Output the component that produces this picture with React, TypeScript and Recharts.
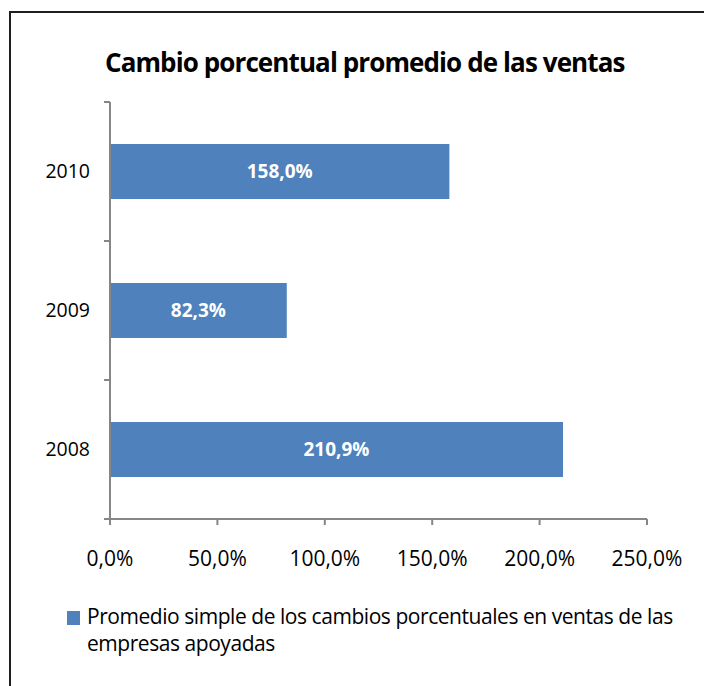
import React from "react";
import {
  BarChart,
  Bar,
  XAxis,
  YAxis,
  Legend,
  LabelList,
} from "recharts";

const years = ["2008", "2009", "2010"];
const avgChange = [210.9, 82.3, 158.0];
const xTicks = [0, 50, 100, 150, 200, 250];
const seriesName =
  "Promedio simple de los cambios porcentuales en ventas de las empresas apoyadas";
const legendLines = [
  "Promedio simple de los cambios porcentuales en ventas de las",
  "empresas apoyadas",
];
const title = "Cambio porcentual promedio de las ventas";

const data = years.map((year, i) => ({ year, value: avgChange[i] }));

const W = 704;
const H = 686;
const MARGIN = { top: 102, right: 57, bottom: 107, left: 30 };
const X_AXIS_H = 60;
const Y_AXIS_W = 80;
const TICK = 6;
const Y_GAP = 14;
const PLOT_H = H - MARGIN.top - MARGIN.bottom - X_AXIS_H;
const BAND = PLOT_H / years.length;

const FONT = "'Open Sans', sans-serif";
const AXIS_GREY = "#868686";
const BLUE = "#4F81BD";

const pct = (v: number) => v.toFixed(1).replace(".", ",") + "%";

// category labels, with the tick marks placed on the band edges
const YearTick = (props: any) => {
  const { x, y, payload } = props;
  const axisX = x + TICK + Y_GAP;
  const half = BAND / 2;
  return (
    <g>
      <line x1={axisX - TICK} x2={axisX} y1={y - half} y2={y - half} stroke={AXIS_GREY} strokeWidth={2} />
      <line x1={axisX - TICK} x2={axisX} y1={y + half} y2={y + half} stroke={AXIS_GREY} strokeWidth={2} />
      <text x={x} y={y} dy="0.35em" textAnchor="end" fontSize={19.5} fill="#000" fontFamily={FONT}>
        {payload.value}
      </text>
    </g>
  );
};

const LegendBox = (props: any) => {
  const item = props.payload && props.payload[0];
  return (
    <div style={{ display: "flex", alignItems: "flex-start", fontFamily: FONT, fontSize: 21, color: "#000", letterSpacing: -0.45 }}>
      <div style={{ width: 13, height: 14, background: item ? item.color : BLUE, marginTop: 8, marginRight: 7, flex: "none" }} />
      <div style={{ lineHeight: "27px", whiteSpace: "nowrap" }}>
        {legendLines.map((l) => (
          <div key={l}>{l}</div>
        ))}
      </div>
    </div>
  );
};

export default function App() {
  return (
    <div style={{ position: "absolute", left: 0, top: 0, width: W, height: H, overflow: "hidden", background: "#fff" }}>
      <div
        style={{
          position: "absolute",
          left: 9,
          top: 11,
          width: 720,
          height: 700,
          borderTop: "2px solid #1f1f1f",
          borderLeft: "2px solid #1f1f1f",
        }}
      />
      <div
        style={{
          position: "absolute",
          left: 105,
          top: 49,
          fontFamily: FONT,
          fontWeight: 700,
          fontSize: 26,
          lineHeight: "26px",
          letterSpacing: -0.9,
          whiteSpace: "nowrap",
          color: "#000",
        }}
      >
        {title}
      </div>
      <div style={{ position: "absolute", left: 0, top: 0 }}>
        <BarChart width={W} height={H} data={data} layout="vertical" margin={MARGIN}>
          <XAxis
            type="number"
            domain={[0, 250]}
            ticks={xTicks}
            tickFormatter={pct}
            height={X_AXIS_H}
            stroke={AXIS_GREY}
            axisLine={{ stroke: AXIS_GREY, strokeWidth: 2 }}
            tickLine={{ stroke: AXIS_GREY, strokeWidth: 2 }}
            tickSize={TICK}
            tickMargin={26}
            tick={{ fill: "#000", fontSize: 21, fontFamily: FONT }}
          />
          <YAxis
            type="category"
            dataKey="year"
            reversed
            width={Y_AXIS_W}
            axisLine={{ stroke: AXIS_GREY, strokeWidth: 2 }}
            tickLine={false}
            tickSize={TICK}
            tickMargin={Y_GAP}
            tick={<YearTick />}
          />
          <Legend
            layout="horizontal"
            verticalAlign="middle"
            align="center"
            content={<LegendBox />}
            wrapperStyle={{ top: 603, left: 67, width: 630, height: 60 }}
          />
          <Bar dataKey="value" name={seriesName} fill={BLUE} barSize={55} isAnimationActive={false}>
            <LabelList
              dataKey="value"
              position="center"
              formatter={(v: any) => pct(Number(v))}
              fill="#fff"
              fontSize={19}
              fontWeight={700}
              fontFamily={FONT}
            />
          </Bar>
        </BarChart>
      </div>
    </div>
  );
}
